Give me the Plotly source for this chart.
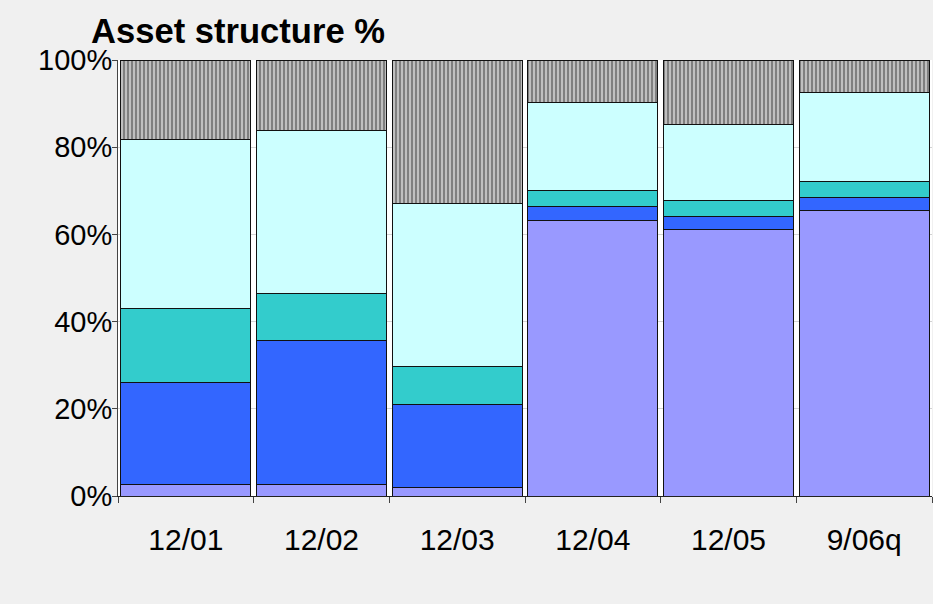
import plotly.graph_objects as go

periods = ["12/01", "12/02", "12/03", "12/04", "12/05", "9/06q"]

# Share of total assets, %, stacked bottom to top
seg_purple = [2.7, 2.7, 2.0, 63.3, 61.2, 65.5]
seg_blue = [23.4, 32.9, 18.9, 3.1, 3.0, 3.0]
seg_teal = [16.8, 10.9, 8.8, 3.6, 3.5, 3.6]
seg_cyan = [38.8, 37.4, 37.3, 20.3, 17.6, 20.4]
seg_striped = [18.3, 16.1, 33.0, 9.7, 14.7, 7.5]

y_ticks = [0, 20, 40, 60, 80, 100]
y_tick_labels = ["0%", "20%", "40%", "60%", "80%", "100%"]

fill_colors = ["#9999FF", "#3366FF", "#33CCCC", "#CCFFFF"]
series = [seg_purple, seg_blue, seg_teal, seg_cyan]

fig = go.Figure()
for vals, col in zip(series, fill_colors):
    fig.add_trace(go.Bar(
        x=periods, y=vals,
        marker=dict(color=col, line=dict(color="#111111", width=1)),
        showlegend=False,
    ))

fig.add_trace(go.Bar(
    x=periods, y=seg_striped,
    marker=dict(
        color="white",
        line=dict(color="#111111", width=1),
        pattern=dict(shape="|", fgcolor="black", bgcolor="white",
                     size=4, solidity=0.75, fillmode="overlay"),
    ),
    showlegend=False,
))

fig.update_layout(
    barmode="stack",
    bargap=0.04,
    width=933, height=604,
    margin=dict(l=118, r=1, t=60, b=108),
    paper_bgcolor="#F0F0F0",
    plot_bgcolor="white",
    font=dict(family="Liberation Sans, Arial, sans-serif", size=30, color="black"),
    title=dict(
        text="<b>Asset structure %</b>",
        font=dict(size=34.6, color="black"),
        x=91 / 933, xanchor="left", xref="container",
        y=1 - 31 / 604, yanchor="middle", yref="container",
    ),
)

fig.update_xaxes(
    showline=True, linecolor="#222222", linewidth=1,
    ticks="outside", ticklen=6, tickcolor="#444444",
    tickson="boundaries",
    ticklabelstandoff=17,
    showgrid=False,
)
fig.update_yaxes(
    range=[0, 100],
    tickmode="array",
    tickvals=y_ticks,
    ticktext=y_tick_labels,
    tickfont=dict(size=29),
    showline=True, linecolor="#444444", linewidth=1,
    ticks="outside", ticklen=5, tickcolor="#444444",
    ticklabelstandoff=-6,
    showgrid=True, gridcolor="#D4D4D4", gridwidth=1,
    zeroline=False,
)

fig.write_html("out.html")
